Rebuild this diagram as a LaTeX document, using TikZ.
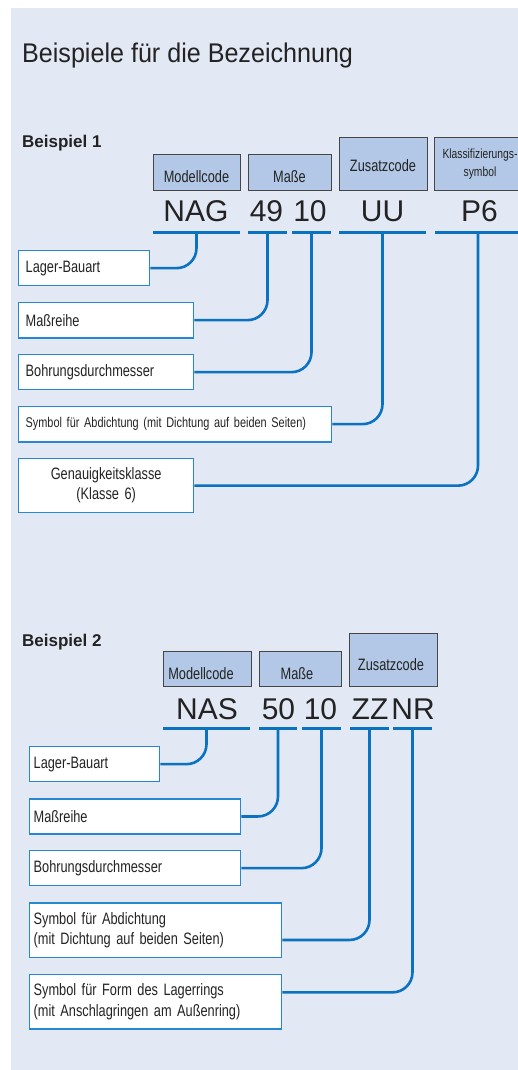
\documentclass[tikz,border=0pt]{standalone}
\usepackage{fontspec}
\setmainfont{Liberation Sans}
\newfontfamily\condf[FakeStretch=0.774]{Liberation Sans}
\newfontfamily\titlef[FakeStretch=0.93]{Liberation Sans}
\newcommand\condsz[2]{\condf\fontsize{#1}{#2}\selectfont\spaceskip=0.17em plus 0.05em minus 0.03em\relax}
\definecolor{panel}{RGB}{226,232,244}
\definecolor{hfill}{RGB}{178,200,230}
\definecolor{hdraw}{RGB}{70,70,70}
\definecolor{lblue}{RGB}{40,135,210}
\definecolor{cblue}{RGB}{10,114,192}
\definecolor{txt}{RGB}{35,35,35}
\begin{document}
\begin{tikzpicture}[x=1pt,y=-1pt,
  every node/.style={text=txt},
  hbox/.style={draw=hdraw, fill=hfill, line width=0.9pt, anchor=north west, inner sep=0pt},
  htext/.style={anchor=base, inner sep=0pt, font=\condsz{16.5}{20}},
  hsmall/.style={anchor=base, inner sep=0pt, font=\condsz{13.3}{16}},
  code/.style={anchor=base, inner sep=0pt, font=\fontsize{30}{34}\selectfont},
  ubar/.style={fill=cblue, inner sep=0pt, minimum height=2.8pt},
  lbox/.style={draw=lblue, fill=white, line width=1.3pt, anchor=north west, inner ysep=0pt,
    align=left, font=\condsz{16.5}{20.5}},
  conn/.style={draw=cblue, line width=2.6pt, rounded corners=20pt},
  head/.style={anchor=base west, inner sep=0pt, font=\bfseries\fontsize{17}{20}\selectfont}
]
\useasboundingbox (0,0) rectangle (518,1070);
\clip (0,0) rectangle (518,1070);
\fill[panel] (11,8) rectangle (530,1080);

% title
\node[anchor=base west, inner sep=0pt, font=\titlef\fontsize{27}{30}\selectfont] (title) at (22,62.7) {Beispiele für die Bezeichnung};

% ---------------- Beispiel 1
\node[head] (b1) at (22,147.3) {Beispiel 1};

\node[hbox, minimum width=87pt, minimum height=36pt] (h1) at (153,154) {};
\node[hbox, minimum width=83pt, minimum height=36pt] (h2) at (248,154) {};
\node[hbox, minimum width=88pt, minimum height=52.7pt] (h3) at (339,137.3) {};
\node[hbox, minimum width=92pt, minimum height=53pt] (h4) at (434,137) {};
\node[htext] (h1t) at (196.5,182) {Modellcode};
\node[htext] (h2t) at (289.5,182) {Maße};
\node[htext] (h3t) at (383,171.7) {Zusatzcode};
\node[hsmall] (h4t) at (480,158.3) {Klassifizierungs-};
\node[hsmall] (h4u) at (480,176.7) {symbol};

\node[code] (c1) at (196,221.7) {NAG};
\node[code] (c2) at (266.5,221.7) {49};
\node[code] (c3) at (310,221.7) {10};
\node[code] (c4) at (382.5,221.7) {UU};
\node[code] (c5) at (479.5,221.7) {P6};

\node[ubar, minimum width=87pt] (u1) at (196.5,232.7) {};
\node[ubar, minimum width=39pt] (u2) at (267.5,232.7) {};
\node[ubar, minimum width=39pt] (u3) at (311.5,232.7) {};
\node[ubar, minimum width=87pt] (u4) at (382.5,232.7) {};
\node[ubar, minimum width=86pt] (u5) at (478,232.7) {};

\node[lbox, inner xsep=7pt, text width=117pt, minimum height=35pt] (l1) at (18,250) {Lager-Bauart};
\node[lbox, inner xsep=7pt, text width=161pt, minimum height=35.6pt] (l2) at (18,301.7) {Maßreihe};
\node[lbox, inner xsep=7pt, text width=161pt, minimum height=35pt] (l3) at (18,354) {Bohrungsdurchmesser};
\node[lbox, inner xsep=7pt, text width=299pt, minimum height=35.6pt, font=\condsz{14.1}{18}] (l4) at (18,405.7) {Symbol für Abdichtung (mit Dichtung auf beiden Seiten)};
\node[lbox, inner xsep=7pt, text width=161pt, minimum height=54pt, align=center, font=\condsz{16.5}{20}] (l5) at (18,458) {Genauigkeitsklasse\\(Klasse 6)};

\draw[conn] (l1.east) -| (u1.center);
\draw[conn] (l2.east) -| (u2.center);
\draw[conn] (l3.east) -| (u3.center);
\draw[conn] (l4.east) -| (u4.center);
\draw[conn] (l5.east) -| (u5.center);

% ---------------- Beispiel 2
\node[head] (b2) at (22,646.7) {Beispiel 2};

\node[hbox, minimum width=88pt, minimum height=35pt] (k1) at (163,650.7) {};
\node[hbox, minimum width=82pt, minimum height=35pt] (k2) at (259,650.7) {};
\node[hbox, minimum width=88pt, minimum height=52.7pt] (k3) at (349,633.3) {};
\node[htext] (k1t) at (201,679) {Modellcode};
\node[htext] (k2t) at (297,679) {Maße};
\node[htext] (k3t) at (391,670) {Zusatzcode};

\node[code] (d1) at (207,719.3) {NAS};
\node[code] (d2) at (278.5,719.3) {50};
\node[code] (d3) at (320.5,719.3) {10};
\node[code] (d4) at (370,719.3) {ZZ};
\node[code] (d5) at (413,719.3) {NR};

\node[ubar, minimum width=87pt] (v1) at (206.5,728.3) {};
\node[ubar, minimum width=38pt] (v2) at (278,728.3) {};
\node[ubar, minimum width=39pt] (v3) at (321.5,728.3) {};
\node[ubar, minimum width=39pt] (v4) at (369.5,728.3) {};
\node[ubar, minimum width=39pt] (v5) at (412.5,728.3) {};

\node[lbox, inner xsep=4pt, text width=122pt, minimum height=35pt] (m1) at (29,746) {Lager-Bauart};
\node[lbox, inner xsep=4pt, text width=203pt, minimum height=35pt] (m2) at (29,798.3) {Maßreihe};
\node[lbox, inner xsep=4pt, text width=203pt, minimum height=35pt] (m3) at (29,850) {Bohrungsdurchmesser};
\node[lbox, inner xsep=4pt, text width=244pt, minimum height=54.7pt] (m4) at (29,902.3) {Symbol für Abdichtung\\(mit Dichtung auf beiden Seiten)};
\node[lbox, inner xsep=4pt, text width=244pt, minimum height=54.3pt] (m5) at (29,974) {Symbol für Form des Lagerrings\\(mit Anschlagringen am Außenring)};

\draw[conn] (m1.east) -| (v1.center);
\draw[conn] (m2.east) -| (v2.center);
\draw[conn] (m3.east) -| (v3.center);
\draw[conn] ([yshift=-9.65pt]m4.east) -| (v4.center);
\draw[conn] ([yshift=9.45pt]m5.east) -| (v5.center);
\end{tikzpicture}
\end{document}
